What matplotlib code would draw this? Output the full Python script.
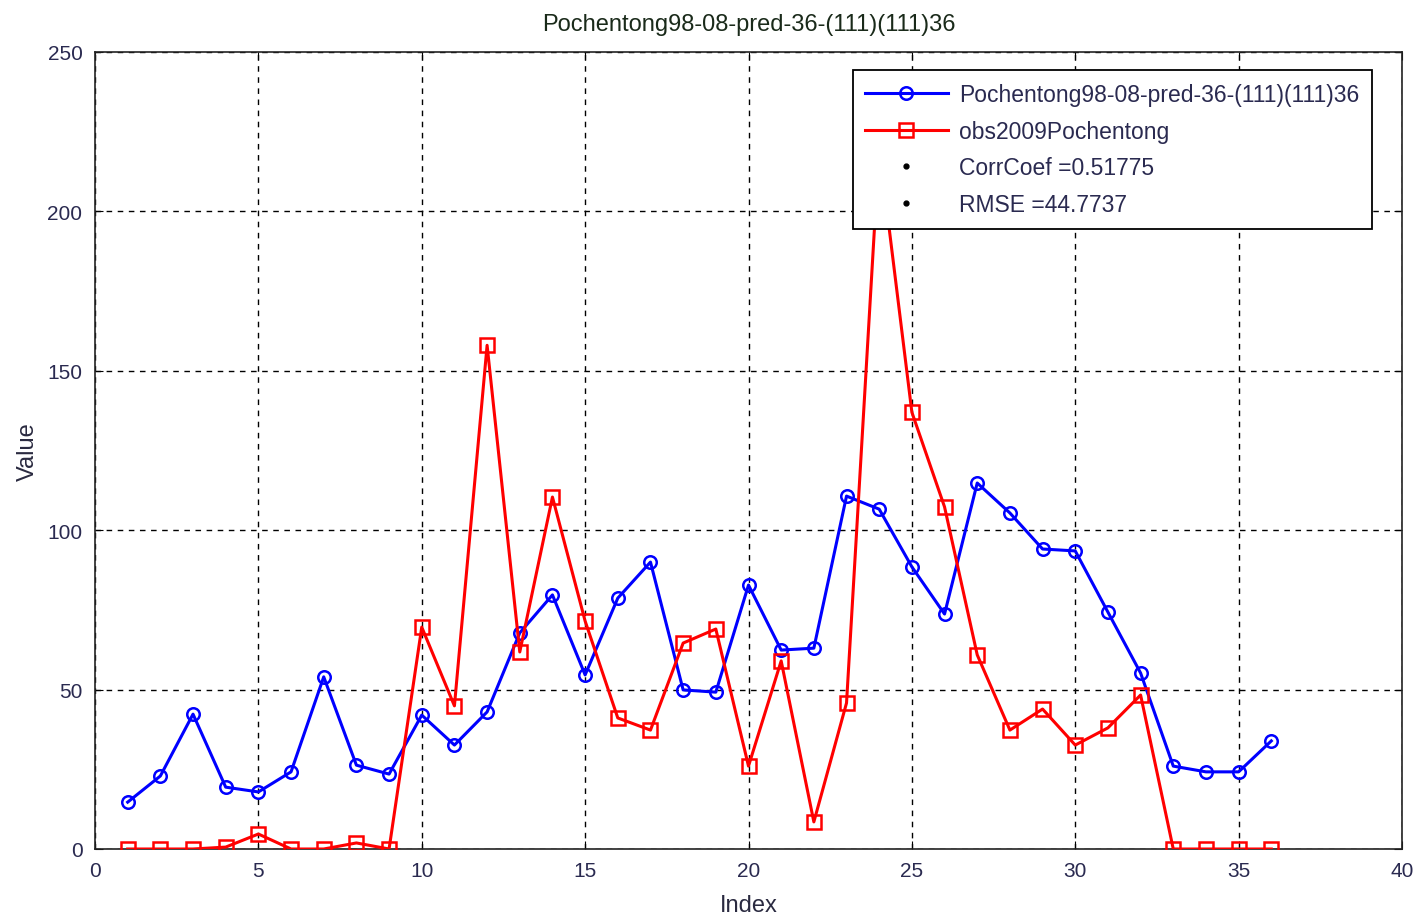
import matplotlib
matplotlib.use("Agg")
import matplotlib.pyplot as plt
from matplotlib.lines import Line2D

plt.rcParams['font.family'] = ['Liberation Sans', 'DejaVu Sans']

index = list(range(1, 37))
pred = [14.7, 22.9, 42.3, 19.4, 17.9, 24.2, 54.0, 26.3, 23.5, 42.0,
        32.6, 43.0, 67.8, 79.7, 54.6, 78.7, 90.0, 49.9, 49.2, 82.8,
        62.4, 63.0, 110.7, 106.6, 88.5, 73.7, 114.8, 105.4, 94.1, 93.5,
        74.3, 55.2, 26.0, 24.2, 24.2, 33.9]
obs = [0, 0, 0, 0.6, 4.7, 0, 0, 1.9, 0, 69.6,
       44.9, 158, 61.8, 110.4, 71.5, 41.1, 37.3, 64.6, 69.0, 26.0,
       59.0, 8.5, 45.8, 220, 137, 107.3, 60.9, 37.3, 43.9, 32.6,
       38.0, 48.3, 0, 0, 0, 0]
pred_label = 'Pochentong98-08-pred-36-(111)(111)36'
obs_label = 'obs2009Pochentong'
corr_text = 'CorrCoef =0.51775'
rmse_text = 'RMSE =44.7737'
xticks = [0, 5, 10, 15, 20, 25, 30, 35, 40]
yticks = [0, 50, 100, 150, 200, 250]

fig = plt.figure(figsize=(14.14, 9.2), dpi=100)
ax = fig.add_axes([95/1414, 70/920, (1402-95)/1414, (850-53)/920])

ax.plot(index, pred, color='#0000ff', lw=2.2, marker='o', ms=9,
        mfc='none', mec='#0000ff', mew=1.8, label=pred_label, zorder=3)
ax.plot(index, obs, color='#ff0000', lw=2.2, marker='s', ms=10,
        mfc='none', mec='#ff0000', mew=1.8, label=obs_label, zorder=3)

ax.set_xlim(0, 40)
ax.set_ylim(0, 250)
ax.set_xticks(xticks)
ax.set_yticks(yticks)
ax.grid(True, color='black', linestyle=(0, (4, 4)), linewidth=1)
ax.tick_params(direction='in', top=True, right=True, length=6, pad=9,
               labelsize=15, colors='black', labelcolor='#2a2a50')
for s in ax.spines.values():
    s.set_linewidth(1.2)
    s.set_color('#222222')

ax.set_xlabel('Index', fontsize=17, labelpad=10, color='#2a2a40')
ax.set_ylabel('Value', fontsize=17, labelpad=6, color='#2a2a40')
ax.set_title('Pochentong98-08-pred-36-(111)(111)36', fontsize=17, pad=16,
             color='#1a2a1a')

handles, labels = ax.get_legend_handles_labels()
dot1 = Line2D([], [], color='black', marker='.', linestyle='none', ms=7)
dot2 = Line2D([], [], color='black', marker='.', linestyle='none', ms=7)
handles += [dot1, dot2]
labels += [corr_text, rmse_text]
leg = ax.legend(handles, labels, loc='upper right', bbox_to_anchor=(0.977, 0.977),
                fontsize=16.5, frameon=True, fancybox=False, framealpha=1,
                edgecolor='black', handlelength=3.6, borderpad=0.55,
                labelspacing=0.6, handletextpad=0.5, borderaxespad=0)
leg.get_frame().set_linewidth(1.3)
leg.set_zorder(5)
for t in leg.get_texts():
    t.set_color('#2a2a50')

fig.savefig('out.png', dpi=100)
